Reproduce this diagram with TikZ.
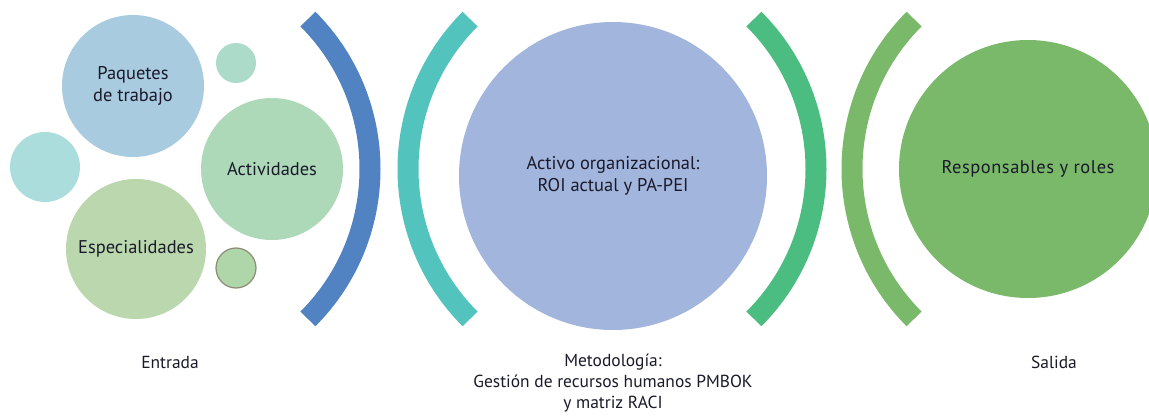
\documentclass[tikz,border=0pt]{standalone}
\usepackage{fontspec}
\setmainfont{PT Sans}
\usepackage{tikz}
\usetikzlibrary{positioning}

\definecolor{cPaquetes}{HTML}{A8CBE0}
\definecolor{cMintTop}{HTML}{ADDBC9}
\definecolor{cAqua}{HTML}{ABDDDD}
\definecolor{cActiv}{HTML}{ADD9B9}
\definecolor{cEspec}{HTML}{BBD7AE}
\definecolor{cSmall}{HTML}{AED6A8}
\definecolor{cSmallRand}{HTML}{8C8C74}
\definecolor{cBlau}{HTML}{5182C1}
\definecolor{cTuerkis}{HTML}{53C3BD}
\definecolor{cActivo}{HTML}{A2B5DC}
\definecolor{cGruen}{HTML}{4CBD80}
\definecolor{cHellgruen}{HTML}{7AB96A}
\definecolor{cText}{HTML}{1A1A2A}

\begin{document}
\begin{tikzpicture}[
        x=1bp, y=1bp,
        blase/.style={circle, inner sep=0pt, align=center, text=cText, font=\fontsize{18.5}{22}\selectfont},
        bogen/.style={line width=21bp},
        etikett/.style={align=center, text=cText, font=\fontsize{17.5}{21.5}\selectfont}
    ]

    % Rahmen
    \useasboundingbox (0,0) rectangle (1149,415);
    \clip (0,0) rectangle (1149,415);

    % Entrada
    \node[blase, fill=cPaquetes, minimum size=142bp] (paquetes) at (133,329) {Paquetes\\de trabajo};
    \node[blase, fill=cMintTop, minimum size=40bp] (kleinoben) at (236,352) {};
    \node[blase, fill=cAqua, minimum size=70bp] (links) at (45,248) {};
    \node[blase, fill=cActiv, minimum size=142bp] (actividades) at (272,246) {Actividades};
    \node[blase, fill=cEspec, minimum size=140bp] (especialidades) at (136,166) {Especialidades};
    \node[blase, fill=cSmall, draw=cSmallRand, line width=1.2bp, minimum size=40bp] (kleinunten) at (236,147) {};

    % Klammern
    \draw[bogen, cBlau] (158,246) ++(-45:212) arc[start angle=-45, end angle=45, radius=212];
    \draw[bogen, cTuerkis] (620,246) ++(135:212) arc[start angle=135, end angle=225, radius=212];
    \draw[bogen, cGruen] (604,246) ++(-45:212) arc[start angle=-45, end angle=45, radius=212];
    \draw[bogen, cHellgruen] (1064,246) ++(135:212) arc[start angle=135, end angle=225, radius=212];

    % Metodologia
    \node[blase, fill=cActivo, minimum size=308bp] (activo) at (613,239) {Activo organizacional:\\ROI actual y PA-PEI};

    % Salida
    \node[blase, fill=cHellgruen, minimum size=258bp] (responsables) at (1028,246) {\addfontfeature{LetterSpace=3}Responsables y roles};

    % Beschriftungen unten
    \node[etikett] (entrada) at (170,53) {Entrada};
    \node[etikett, anchor=north] (metodologia) at (613,65) {Metodología:\\Gestión de recursos humanos PMBOK\\y matriz RACI};
    \node[etikett] (salida) at (1054,53) {Salida};

    \end{tikzpicture}
\end{document}
